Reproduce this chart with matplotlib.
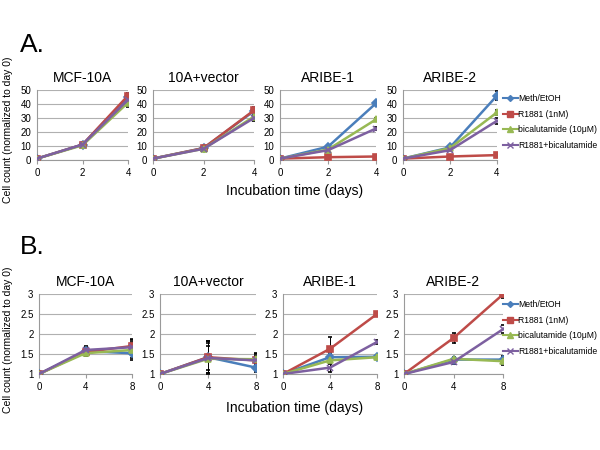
import matplotlib
matplotlib.use('Agg')
import matplotlib.pyplot as plt
from matplotlib.lines import Line2D
import numpy as np

plt.rcParams['font.family'] = ['Liberation Sans', 'DejaVu Sans']

treatments = ['Meth/EtOH', 'R1881 (1nM)', 'bicalutamide (10\u03bcM)', 'R1881+bicalutamide']
colors = ['#4A7EBB', '#BE4B48', '#98B954', '#7D60A0']
markers = ['D', 's', '^', 'x']
lines = ['MCF-10A', '10A+vector', 'ARIBE-1', 'ARIBE-2']

daysA = [0, 2, 4]
daysB = [0, 4, 8]

# panel A values, one list per treatment for each cell line
dataA = {
    'MCF-10A':    [[1, 11, 45], [1, 11, 46], [1, 10.5, 41], [1, 11, 43]],
    '10A+vector': [[1, 8.5, 35], [1, 8.5, 35.5], [1, 8, 31], [1, 8, 30]],
    'ARIBE-1':    [[1, 9.5, 40.5], [1, 2, 2.5], [1, 7.5, 29], [1, 7, 22.5]],
    'ARIBE-2':    [[1, 9, 46], [1, 2.5, 3.5], [1, 8.5, 34], [1, 7, 28]],
}
errA = {
    'MCF-10A':    [[0, 0.5, 3], [0, 0.5, 2], [0, 0.5, 3], [0, 0.5, 2]],
    '10A+vector': [[0, 0.5, 3], [0, 0.5, 2], [0, 0.5, 2], [0, 0.5, 2]],
    'ARIBE-1':    [[0, 0.5, 1], [0, 0.3, 0.5], [0, 0.5, 1], [0, 0.5, 1]],
    'ARIBE-2':    [[0, 0.5, 3], [0, 0.3, 0.5], [0, 0.5, 2], [0, 0.5, 2]],
}

# panel B values
dataB = {
    'MCF-10A':    [[1, 1.57, 1.52], [1, 1.55, 1.7], [1, 1.52, 1.6], [1, 1.6, 1.67]],
    '10A+vector': [[1, 1.42, 1.16], [1, 1.42, 1.34], [1, 1.38, 1.37], [1, 1.4, 1.34]],
    'ARIBE-1':    [[1, 1.42, 1.43], [1, 1.63, 2.5], [1, 1.34, 1.42], [1, 1.16, 1.8]],
    'ARIBE-2':    [[1, 1.36, 1.36], [1, 1.9, 2.99], [1, 1.38, 1.32], [1, 1.3, 2.12]],
}
errB = {
    'MCF-10A':    [[0, 0.08, 0.18], [0, 0.1, 0.15], [0, 0.05, 0.2], [0, 0.1, 0.2]],
    '10A+vector': [[0, 0.4, 0.1], [0, 0.4, 0.15], [0, 0.4, 0.15], [0, 0.3, 0.1]],
    'ARIBE-1':    [[0, 0.1, 0.03], [0, 0.3, 0.03], [0, 0.05, 0.03], [0, 0.1, 0.05]],
    'ARIBE-2':    [[0, 0.05, 0.1], [0, 0.12, 0.1], [0, 0.05, 0.1], [0, 0.05, 0.1]],
}

W, H = 600.0, 450.0

def box(l, t, r, b):
    return [l / W, 1 - b / H, (r - l) / W, (b - t) / H]

posA = [box(37, 90, 128, 160), box(153, 90, 254, 160), box(280, 90, 376, 160), box(403, 90, 497, 160)]
posB = [box(39, 294, 132, 374), box(160, 294, 256, 374), box(283, 294, 377, 374), box(404, 294, 503, 374)]


def msize(m):
    return 4 if m == 'D' else 5


def draw(ax, days, vals, errs, ylim, yticks, yticklabels, title):
    for i in range(4):
        ax.errorbar(days, vals[i], yerr=errs[i], color=colors[i], marker=markers[i],
                    markersize=msize(markers[i]), markeredgewidth=1.2,
                    linewidth=1.8, ecolor='black', elinewidth=0.7, capsize=1.5,
                    capthick=0.7, zorder=3)
    ax.set_xlim(days[0], days[-1])
    ax.set_ylim(*ylim)
    ax.set_xticks(days)
    ax.set_yticks(yticks)
    ax.set_yticklabels(yticklabels)
    ax.grid(axis='y', color='#B0B0B0', linewidth=0.8)
    ax.set_axisbelow(True)
    for s in ['top', 'right']:
        ax.spines[s].set_visible(False)
    for s in ['left', 'bottom']:
        ax.spines[s].set_color('#9A9A9A')
        ax.spines[s].set_linewidth(0.8)
    ax.tick_params(axis='both', labelsize=7, length=3, color='#9A9A9A', pad=3)
    ax.tick_params(axis='y', length=0, pad=4)
    ax.set_title(title, fontsize=10, pad=6)


def add_legend(ax, ycenter):
    handles = [Line2D([], [], color=colors[i], marker=markers[i], markersize=msize(markers[i]) - 1,
                      markeredgewidth=1.0, linewidth=1.5) for i in range(4)]
    ax.legend(handles, treatments, loc='center left', bbox_to_anchor=(503 / W, 1 - ycenter / H),
              bbox_transform=fig.transFigure, frameon=False,
              fontsize=6.2, handlelength=1.7, handletextpad=0.05,
              labelspacing=0.75, borderaxespad=0.0, borderpad=0.0)


fig = plt.figure(figsize=(6, 4.5), dpi=100)

for k, name in enumerate(lines):
    ax = fig.add_axes(posA[k])
    draw(ax, daysA, dataA[name], errA[name], (0, 50), [0, 10, 20, 30, 40, 50],
         ['0', '10', '20', '30', '40', '50'], name)
    if k == 3:
        add_legend(ax, 122)

for k, name in enumerate(lines):
    ax = fig.add_axes(posB[k])
    draw(ax, daysB, dataB[name], errB[name], (1, 3), [1, 1.5, 2, 2.5, 3],
         ['1', '1.5', '2', '2.5', '3'], name)
    if k == 3:
        add_legend(ax, 328)

fig.text(20 / W, 1 - 45 / H, 'A.', fontsize=19, va='center', ha='left')
fig.text(20 / W, 1 - 247 / H, 'B.', fontsize=19, va='center', ha='left')
fig.text(295 / W, 1 - 191 / H, 'Incubation time (days)', fontsize=10, ha='center', va='center')
fig.text(295 / W, 1 - 408 / H, 'Incubation time (days)', fontsize=10, ha='center', va='center')
fig.text(8 / W, 1 - 130 / H, 'Cell count (normalized to day 0)', fontsize=7.5,
         rotation=90, ha='center', va='center')
fig.text(8 / W, 1 - 340 / H, 'Cell count (normalized to day 0)', fontsize=7.5,
         rotation=90, ha='center', va='center')

fig.savefig('out.png', dpi=100)
